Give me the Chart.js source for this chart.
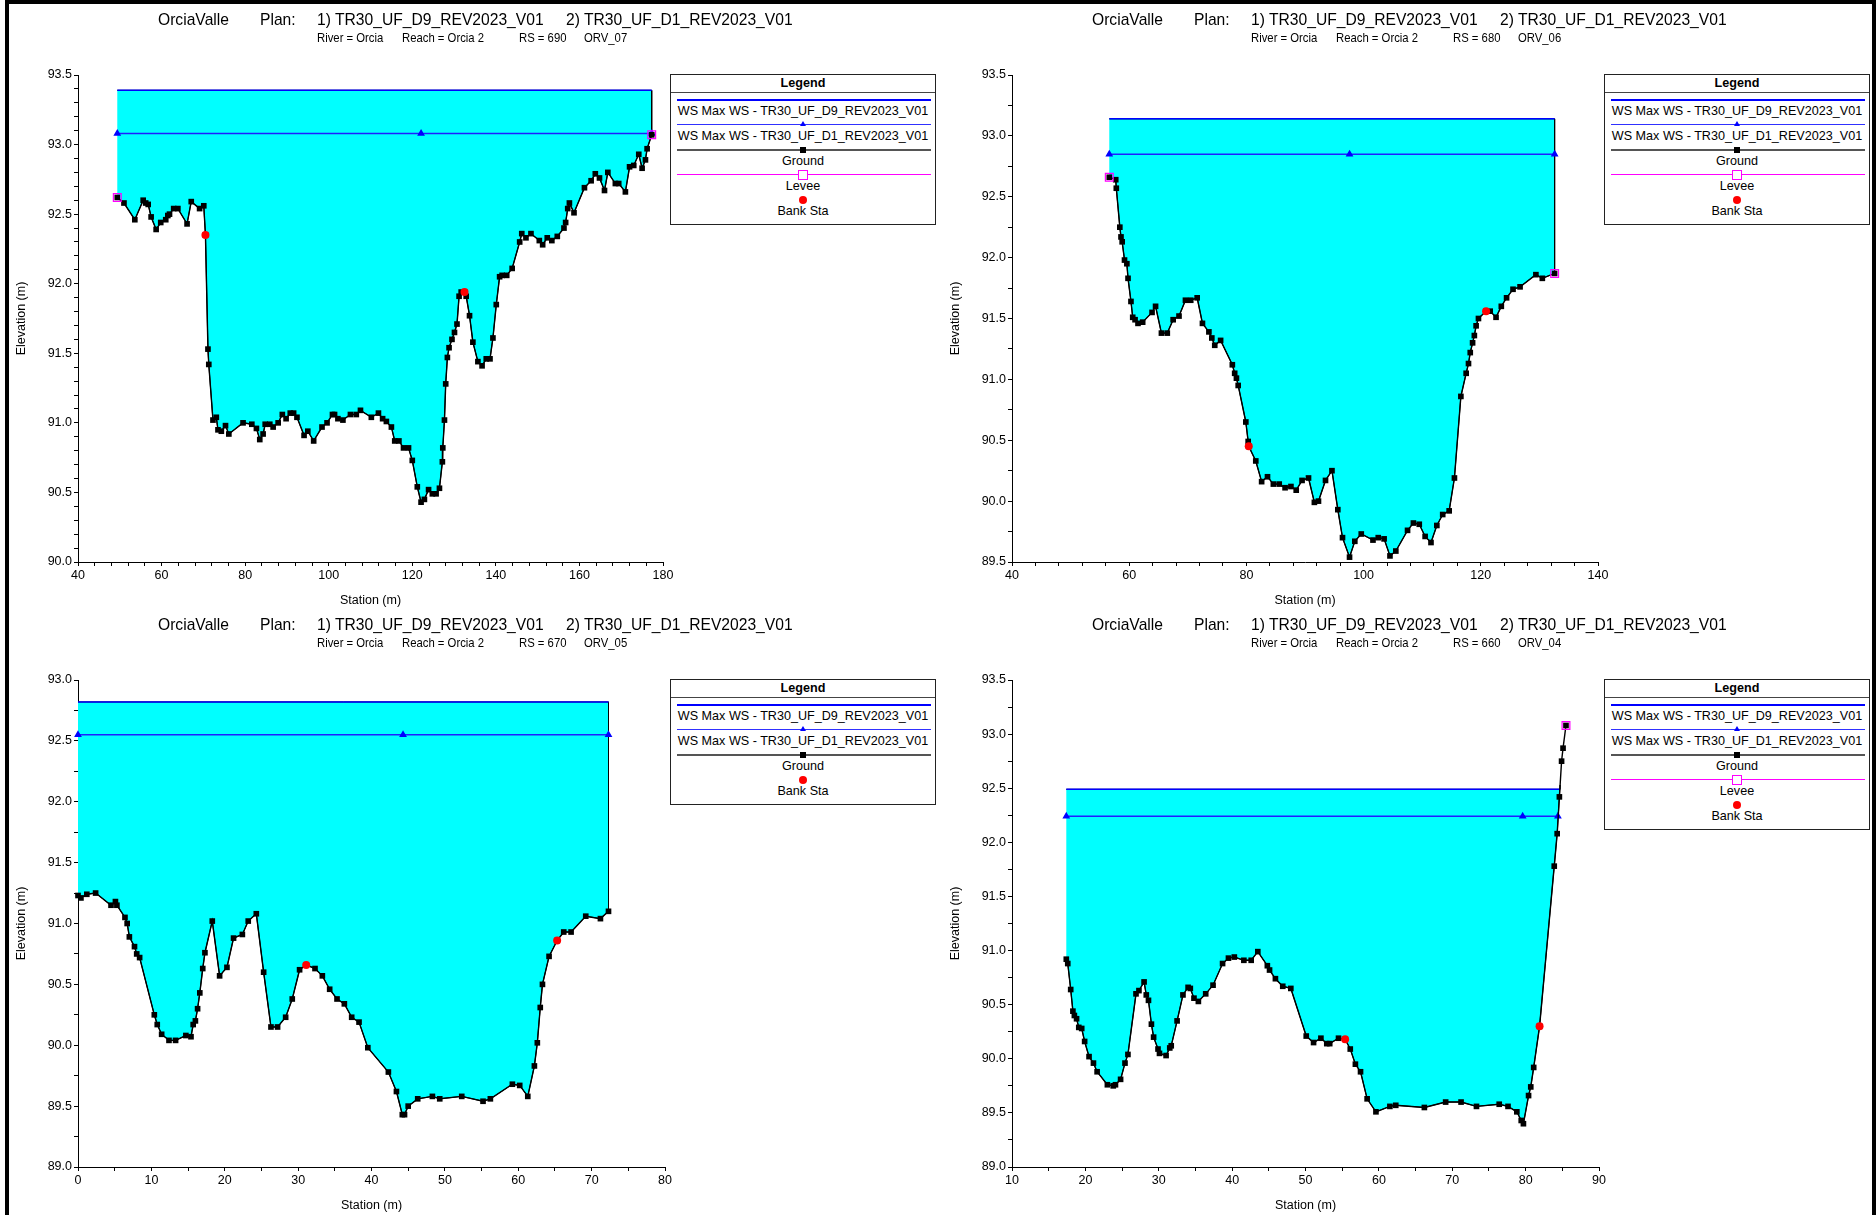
<!DOCTYPE html>
<html>
<head>
<meta charset="utf-8">
<script src="https://cdn.jsdelivr.net/npm/chart.js@4.4.1/dist/chart.umd.min.js"></script>
<style>
body { margin:0; background:#fff; width:1876px; height:1215px; overflow:hidden; position:relative; font-family:"Liberation Sans", Arial, sans-serif; }
#frame { position:absolute; left:5px; top:0; width:1871px; height:1240px; border:4px solid #000; border-bottom:none; box-sizing:border-box; }
.panel { position:absolute; width:934px; height:611px; }
.panel canvas { position:absolute; left:0; top:0; }
.t1 { position:absolute; top:11px; font-size:17px; line-height:17px; white-space:nowrap; transform:scaleX(0.92); transform-origin:0 0; }
.t2 { position:absolute; top:31px; font-size:13px; line-height:13px; white-space:nowrap; transform:scaleX(0.87); transform-origin:0 0; }
.legend { position:absolute; left:670px; top:74px; width:266px; border:1px solid #222; box-sizing:border-box; background:#fff; font-size:12.6px; }
.legend .head { position:absolute; left:0; right:0; top:0; height:17px; border-bottom:1px solid #444; text-align:center; font-weight:bold; line-height:17px; }
.legend .ln { position:absolute; left:6px; width:254px; }
.legend .tx { position:absolute; left:0; right:0; text-align:center; line-height:14px; white-space:nowrap; }
.legend .mk { position:absolute; }
</style>
</head>
<body>
<div id="frame"></div>
<script>
// cross sections, RS 690 / 680 / 670 / 660
var panelRS = ['690', '680', '670', '660'];
var panelORV = ['ORV_07', 'ORV_06', 'ORV_05', 'ORV_04'];
var planNames = ['TR30_UF_D9_REV2023_V01', 'TR30_UF_D1_REV2023_V01'];

var wsD9 = [93.39, 93.14, 92.82, 92.49];
var wsD1 = [93.08, 92.85, 92.55, 92.24];
var wsD9Extent = [[49.4, 177.3], [56.6, 132.6], [0, 72.3], [17.4, 84.7]];
var wsD1Marks = [[49.4, 122.1, 177.3], [56.6, 97.6, 132.6], [0, 44.3, 72.3], [17.4, 79.6, 84.4]];

var xRanges = [[40, 180], [40, 140], [0, 80], [10, 90]];
var xSteps = [[4, 20], [4, 20], [5, 10], [5, 10]];
var yRanges = [[90, 93.5], [89.5, 93.5], [89, 93], [89, 93.5]];
var ySteps = [[0.1, 0.5], [0.25, 0.5], [0.25, 0.5], [0.25, 0.5]];

var ground690 = [[49.4,92.62],[51.0,92.58],[53.6,92.46],[55.6,92.60],[56.2,92.58],[56.8,92.57],[57.5,92.48],[58.7,92.39],[59.8,92.44],[61.0,92.46],
  [61.5,92.49],[61.9,92.50],[62.9,92.54],[63.9,92.54],[66.1,92.43],[67.1,92.59],[69.1,92.54],[70.1,92.56],[70.5,92.35],[71.1,91.53],
  [71.3,91.42],[72.3,91.02],[73.1,91.04],[73.5,90.95],[74.3,90.94],[75.3,90.98],[76.1,90.92],[79.5,91.00],[81.6,90.99],[82.7,90.96],
  [83.5,90.88],[84.3,90.92],[84.8,90.99],[85.9,90.99],[86.7,90.97],[87.9,91.00],[88.9,91.06],[89.8,91.03],[90.8,91.07],[91.6,91.07],
  [92.4,91.04],[94.1,90.91],[95.0,90.94],[96.4,90.87],[98.4,90.97],[99.6,91.00],[100.9,91.06],[101.4,91.06],[102.2,91.03],[103.4,91.02],
  [105.2,91.06],[106.6,91.06],[107.6,91.09],[110.2,91.04],[111.9,91.07],[112.9,91.03],[113.8,91.01],[115.0,90.97],[115.8,90.87],[116.8,90.87],
  [117.9,90.82],[119.1,90.82],[120.0,90.73],[121.2,90.54],[122.1,90.43],[122.9,90.45],[123.9,90.52],[124.8,90.49],[125.7,90.49],[126.5,90.53],
  [127.2,90.72],[127.3,90.82],[127.7,91.02],[128.0,91.28],[128.4,91.47],[128.8,91.54],[129.5,91.60],[130.1,91.65],[130.7,91.71],[131.2,91.91],
  [131.7,91.94],[132.5,91.94],[132.9,91.91],[133.7,91.77],[134.5,91.58],[135.7,91.44],[136.7,91.41],[137.7,91.46],[138.6,91.46],[139.3,91.61],
  [140.1,91.85],[140.9,92.05],[141.5,92.06],[142.6,92.06],[143.9,92.11],[145.7,92.30],[146.2,92.36],[147.2,92.33],[148.4,92.36],[150.4,92.31],
  [151.2,92.28],[152.3,92.33],[153.4,92.31],[154.7,92.34],[156.3,92.40],[156.7,92.44],[157.2,92.54],[157.6,92.58],[158.7,92.51],[161.2,92.69],
  [162.8,92.74],[163.8,92.79],[164.8,92.76],[166.0,92.67],[166.8,92.80],[168.6,92.72],[169.4,92.72],[171.0,92.66],[172.0,92.84],[173.0,92.85],
  [174.2,92.93],[175.0,92.83],[175.8,92.89],[176.2,92.97],[177.3,93.07]];
var bank690 = [[70.5, 92.35], [132.5, 91.94]];
var levee690 = [[49.4, 92.62], [177.3, 93.07]];

var ground680 = [[56.6,92.66],[57.7,92.64],[57.8,92.57],[58.4,92.25],[58.6,92.17],[58.8,92.13],[59.2,91.98],[59.6,91.95],[59.8,91.83],[60.3,91.64],
  [60.6,91.51],[61.0,91.49],[61.5,91.46],[62.3,91.47],[63.9,91.55],[64.5,91.60],[65.5,91.38],[66.5,91.38],[67.5,91.49],[68.5,91.52],
  [69.6,91.65],[70.5,91.65],[71.6,91.67],[72.5,91.46],[73.6,91.39],[74.1,91.34],[74.6,91.28],[75.6,91.32],[77.6,91.12],[78.0,91.05],
  [78.3,91.01],[78.6,90.95],[79.9,90.65],[80.3,90.49],[80.4,90.45],[81.6,90.33],[82.6,90.16],[83.6,90.20],[84.6,90.14],[85.6,90.14],
  [86.6,90.11],[87.6,90.12],[88.5,90.09],[89.5,90.17],[90.6,90.19],[91.6,89.99],[92.3,90.00],[93.5,90.17],[94.6,90.25],[95.6,89.93],
  [96.4,89.70],[97.6,89.54],[98.5,89.67],[99.6,89.73],[101.6,89.68],[102.5,89.70],[103.5,89.69],[104.5,89.55],[105.5,89.59],[107.5,89.76],
  [108.5,89.82],[109.5,89.81],[110.5,89.71],[111.5,89.66],[112.5,89.80],[113.5,89.89],[114.6,89.92],[115.5,90.19],[116.6,90.86],[117.5,91.05],
  [117.9,91.13],[118.2,91.22],[118.6,91.30],[118.9,91.36],[119.2,91.44],[119.6,91.50],[120.9,91.56],[121.6,91.56],[122.6,91.51],[123.5,91.60],
  [124.4,91.67],[125.5,91.74],[126.7,91.76],[129.4,91.86],[130.5,91.83],[132.6,91.87]];
var bank680 = [[80.4, 90.45], [120.9, 91.56]];
var levee680 = [[56.6, 92.66], [132.6, 91.87]];

var ground670 = [[0,91.23],[0.4,91.21],[1.2,91.24],[2.4,91.25],[4.5,91.15],[5.1,91.18],[5.3,91.15],[6.4,91.05],[6.7,91.00],[7.0,90.89],
  [7.7,90.81],[8.0,90.75],[8.4,90.72],[10.4,90.25],[10.8,90.17],[11.4,90.09],[12.4,90.04],[13.3,90.04],[14.7,90.08],[15.4,90.07],
  [15.7,90.17],[16.0,90.20],[16.3,90.30],[16.6,90.43],[17.0,90.63],[17.3,90.76],[18.3,91.02],[19.3,90.57],[20.3,90.64],[21.2,90.88],
  [22.4,90.91],[23.2,91.02],[24.3,91.08],[25.3,90.60],[26.3,90.15],[27.2,90.15],[28.3,90.23],[29.2,90.38],[30.2,90.62],[31.1,90.66],
  [32.3,90.63],[33.3,90.57],[34.3,90.46],[35.3,90.38],[36.3,90.34],[37.3,90.23],[38.3,90.19],[39.5,89.98],[42.3,89.78],[43.4,89.62],
  [44.2,89.43],[44.5,89.43],[45.0,89.50],[46.3,89.56],[48.3,89.58],[49.3,89.56],[52.3,89.58],[55.2,89.54],[56.2,89.56],[59.2,89.68],
  [60.2,89.67],[61.3,89.58],[62.2,89.83],[62.6,90.02],[63.0,90.31],[63.3,90.50],[64.2,90.73],[65.3,90.86],[66.2,90.93],[67.2,90.93],
  [69.2,91.06],[71.2,91.04],[72.3,91.10]];
var bank670 = [[31.1, 90.66], [65.3, 90.86]];
var levee670 = [];

var ground660 = [[17.4,90.92],[17.6,90.88],[18.0,90.64],[18.3,90.44],[18.5,90.40],[18.8,90.37],[19.1,90.29],[19.5,90.28],[19.9,90.16],[20.5,90.02],
  [21.1,89.96],[21.6,89.88],[23.0,89.76],[23.8,89.75],[24.1,89.76],[24.8,89.81],[25.4,89.96],[25.8,90.04],[26.9,90.60],[27.3,90.63],
  [28.0,90.71],[28.3,90.59],[28.6,90.54],[29.0,90.32],[29.3,90.20],[29.9,90.09],[30.1,90.05],[31.0,90.03],[31.5,90.10],[31.7,90.12],
  [32.5,90.35],[33.3,90.59],[34.0,90.66],[34.3,90.65],[34.8,90.56],[35.4,90.53],[36.4,90.60],[37.4,90.68],[38.7,90.88],[39.5,90.93],
  [40.3,90.94],[41.6,90.91],[42.6,90.91],[43.5,90.99],[44.8,90.86],[45.1,90.82],[45.9,90.74],[46.9,90.67],[48.0,90.65],[50.1,90.21],
  [51.1,90.15],[52.1,90.19],[52.9,90.14],[53.3,90.14],[54.5,90.19],[55.4,90.18],[56.1,90.09],[56.8,89.95],[57.5,89.88],[58.4,89.63],
  [59.6,89.51],[61.5,89.56],[62.3,89.57],[66.2,89.55],[69.1,89.60],[71.2,89.60],[73.3,89.56],[76.4,89.58],[77.6,89.56],[78.8,89.51],
  [79.4,89.43],[79.7,89.40],[80.4,89.66],[80.7,89.74],[81.1,89.92],[81.9,90.30],[83.9,91.78],[84.3,92.08],[84.6,92.42],[84.9,92.75],
  [85.1,92.87],[85.5,93.08]];
var bank660 = [[55.4, 90.18], [81.9, 90.30]];
var levee660 = [[85.5, 93.08]];

var grounds = [ground690, ground680, ground670, ground660];
var banks = [bank690, bank680, bank670, bank660];
var levees = [levee690, levee680, levee670, levee660];

var panelPos = [[0, 0], [934, 0], [0, 605], [934, 605]];
var padRight = [271, 270, 269, 269];

var FONT = '"Liberation Sans", Arial, sans-serif';

function pts(arr) {
    return arr.map(function(p) { return {x: p[0], y: p[1]}; });
}

function groundAt(ground, x) {
    if (x <= ground[0][0]) return ground[0][1];
    for (var i = 1; i < ground.length; i++) {
        if (x <= ground[i][0]) {
            var a = ground[i - 1], b = ground[i];
            return a[1] + (b[1] - a[1]) * (x - a[0]) / (b[0] - a[0]);
        }
    }
    return ground[ground.length - 1][1];
}

// water area: WS line across, then back along the ground
function waterShape(ground, ws, xl, xr) {
    var shape = [{x: xl, y: ws}, {x: xr, y: ws}, {x: xr, y: groundAt(ground, xr)}];
    for (var i = ground.length - 1; i >= 0; i--) {
        if (ground[i][0] > xl && ground[i][0] < xr) shape.push({x: ground[i][0], y: ground[i][1]});
    }
    shape.push({x: xl, y: groundAt(ground, xl)});
    return shape;
}

function tickLabel(major, digits) {
    return function(v) {
        var r = v / major;
        return Math.abs(r - Math.round(r)) < 1e-6 ? v.toFixed(digits) : '';
    };
}

function addText(parent, cls, text, left) {
    var d = document.createElement('div');
    d.className = cls;
    d.textContent = text;
    d.style.left = left + 'px';
    parent.appendChild(d);
}

function addLegend(panel, hasLevee) {
    var box = document.createElement('div');
    box.className = 'legend';
    var html = '<div class="head">Legend</div>';
    var entries = [
        {text: 'WS Max WS - ' + planNames[0], line: '2px solid #0000ff', mk: ''},
        {text: 'WS Max WS - ' + planNames[1], line: '1.5px solid #3030ff', mk: 'tri'},
        {text: 'Ground', line: '2px solid #555', mk: 'sq'}
    ];
    if (hasLevee) entries.push({text: 'Levee', line: '1px solid #ff00ff', mk: 'osq'});
    entries.push({text: 'Bank Sta', line: '', mk: 'dot'});
    entries.forEach(function(e, i) {
        var ly = 25 + 25 * i;
        if (e.line) html += '<div class="ln" style="top:' + (ly - 1) + 'px;border-top:' + e.line + '"></div>';
        if (e.mk == 'tri') html += '<div class="mk" style="left:129px;top:' + (ly - 4) + 'px;border-left:3px solid transparent;border-right:3px solid transparent;border-bottom:5px solid #0000ff"></div>';
        if (e.mk == 'sq') html += '<div class="mk" style="left:129px;top:' + (ly - 3) + 'px;width:6px;height:6px;background:#000"></div>';
        if (e.mk == 'osq') html += '<div class="mk" style="left:127px;top:' + (ly - 5) + 'px;width:8px;height:8px;border:1px solid #ff00ff;background:#fff"></div>';
        if (e.mk == 'dot') html += '<div class="mk" style="left:128px;top:' + (ly - 4) + 'px;width:8px;height:8px;border-radius:50%;background:#ff0000"></div>';
        html += '<div class="tx" style="top:' + (ly + 4) + 'px">' + e.text + '</div>';
    });
    box.innerHTML = html;
    box.style.height = (25 + 25 * entries.length + 1) + 'px';
    panel.appendChild(box);
}

for (var p = 0; p < 4; p++) {
    var panel = document.createElement('div');
    panel.className = 'panel';
    panel.style.left = panelPos[p][0] + 'px';
    panel.style.top = panelPos[p][1] + 'px';
    document.body.appendChild(panel);

    var canvas = document.createElement('canvas');
    canvas.width = 934;
    canvas.height = 611;
    panel.appendChild(canvas);

    addText(panel, 't1', 'OrciaValle', 158);
    addText(panel, 't1', 'Plan:', 260);
    addText(panel, 't1', '1) ' + planNames[0], 317);
    addText(panel, 't1', '2) ' + planNames[1], 566);
    addText(panel, 't2', 'River = Orcia', 317);
    addText(panel, 't2', 'Reach = Orcia 2', 402);
    addText(panel, 't2', 'RS = ' + panelRS[p], 519);
    addText(panel, 't2', panelORV[p], 584);
    addLegend(panel, levees[p].length > 0);

    var ground = grounds[p];
    var ext = wsD9Extent[p];
    var d1 = wsD1Marks[p].map(function(x) { return {x: x, y: wsD1[p]}; });

    new Chart(canvas.getContext('2d'), {
        type: 'scatter',
        data: {
            datasets: [{
                label: 'water',
                data: waterShape(ground, wsD9[p], ext[0], ext[1]),
                showLine: true,
                fill: 'shape',
                backgroundColor: '#00ffff',
                borderColor: '#000',
                borderWidth: 1,
                pointRadius: 0,
                order: 6
            }, {
                label: 'WS Max WS - ' + planNames[0],
                data: [{x: ext[0], y: wsD9[p]}, {x: ext[1], y: wsD9[p]}],
                showLine: true,
                borderColor: '#0000ff',
                borderWidth: 1.5,
                pointRadius: 0,
                order: 5
            }, {
                label: 'WS Max WS - ' + planNames[1],
                data: d1,
                showLine: true,
                borderColor: '#2020ff',
                borderWidth: 1.5,
                pointStyle: 'triangle',
                pointRadius: 3,
                backgroundColor: '#0000ff',
                pointBorderColor: '#0000ff',
                order: 4
            }, {
                label: 'Ground',
                data: pts(ground),
                showLine: true,
                borderColor: '#000',
                borderWidth: 1.4,
                pointStyle: 'rect',
                pointRadius: 4,
                backgroundColor: '#000',
                pointBorderColor: '#000',
                pointBorderWidth: 0,
                order: 3
            }, {
                label: 'Levee',
                data: pts(levees[p]),
                pointStyle: 'rect',
                pointRadius: 5.5,
                backgroundColor: 'rgba(0,0,0,0)',
                pointBorderColor: '#ff00ff',
                pointBorderWidth: 1.2,
                order: 2
            }, {
                label: 'Bank Sta',
                data: pts(banks[p]),
                pointStyle: 'circle',
                pointRadius: 4,
                backgroundColor: '#ff0000',
                pointBorderColor: '#ff0000',
                pointBorderWidth: 0,
                order: 1
            }]
        },
        options: {
            responsive: false,
            animation: false,
            events: [],
            clip: false,
            layout: {
                padding: {top: 75, left: 0, right: padRight[p], bottom: 0}
            },
            plugins: {
                legend: {display: false},
                tooltip: {enabled: false}
            },
            scales: {
                x: {
                    type: 'linear',
                    min: xRanges[p][0],
                    max: xRanges[p][1],
                    afterFit: function(scale) { scale.height = 49; },
                    border: {color: '#000', width: 1},
                    grid: {drawOnChartArea: false, drawTicks: true, tickLength: 4, tickColor: '#000'},
                    ticks: {
                        stepSize: xSteps[p][0],
                        maxTicksLimit: 1000,
                        autoSkip: false,
                        maxRotation: 0,
                        padding: 2,
                        color: '#000',
                        font: {family: FONT, size: 12.5},
                        callback: tickLabel(xSteps[p][1], 0)
                    },
                    title: {
                        display: true,
                        text: 'Station (m)',
                        color: '#000',
                        font: {family: FONT, size: 12.5},
                        padding: {top: 0, bottom: 3}
                    }
                },
                y: {
                    type: 'linear',
                    min: yRanges[p][0],
                    max: yRanges[p][1],
                    afterFit: function(scale) { scale.width = 78; },
                    border: {color: '#000', width: 1},
                    grid: {drawOnChartArea: false, drawTicks: true, tickLength: 4, tickColor: '#000'},
                    ticks: {
                        stepSize: ySteps[p][0],
                        maxTicksLimit: 1000,
                        autoSkip: false,
                        padding: 2,
                        color: '#000',
                        font: {family: FONT, size: 12.5},
                        callback: tickLabel(ySteps[p][1], 1)
                    },
                    title: {
                        display: true,
                        text: 'Elevation (m)',
                        color: '#000',
                        font: {family: FONT, size: 12.5},
                        padding: {top: 14, bottom: 0}
                    }
                }
            }
        }
    });
}
</script>
</body>
</html>
